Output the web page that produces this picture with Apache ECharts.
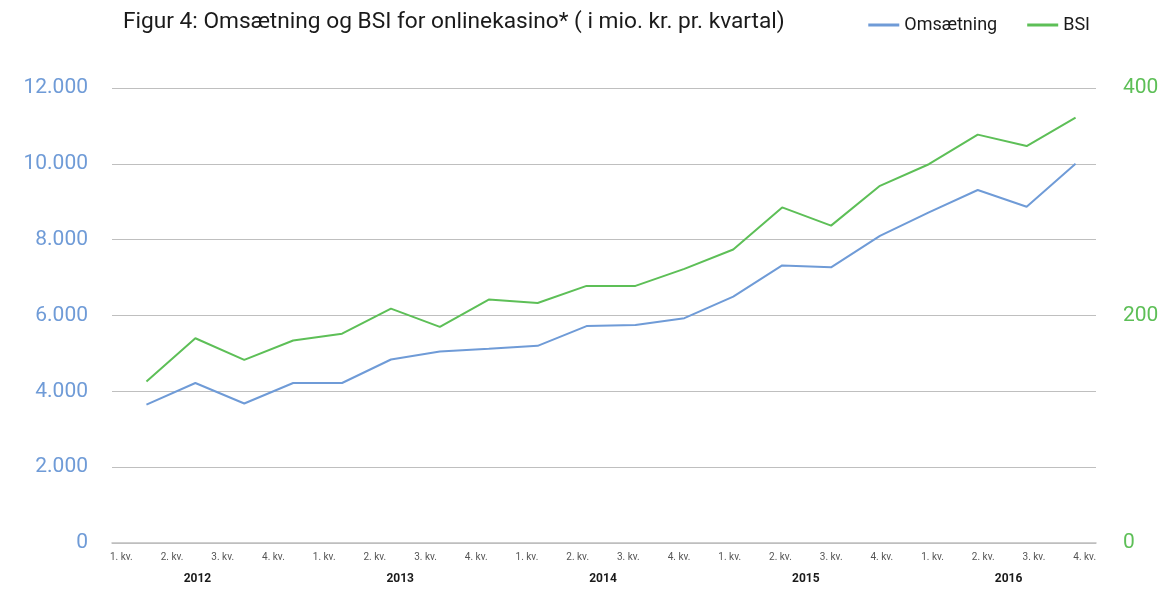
<!DOCTYPE html>
<html><head><meta charset="utf-8">
<script src="https://cdn.jsdelivr.net/npm/echarts@6/dist/echarts.min.js"></script>
<style>html,body{margin:0;padding:0;background:#fff}#c{width:1175px;height:590px}</style>
</head><body><div id="c"></div>
<script>
const quarters = ['1. kv.','2. kv.','3. kv.','4. kv.','1. kv.','2. kv.','3. kv.','4. kv.','1. kv.','2. kv.','3. kv.','4. kv.','1. kv.','2. kv.','3. kv.','4. kv.','1. kv.','2. kv.','3. kv.','4. kv.'];
const years = ['2012','2013','2014','2015','2016'];
const omsaetning = [3650,4220,3680,4220,4220,4840,5050,5120,5200,5720,5750,5930,6500,7320,7270,8100,8720,9310,8870,10000];
const bsi = [142,180,161,178,184,206,190,214,211,226,226,241,258,295,279,314,333,359,349,374];
const leftTicks = [0,2000,4000,6000,8000,10000,12000];
const rightTicks = [0,200,400];

const BLUE = '#6f9bd7', GREEN = '#5dbf57';
const TOP = 88, BOTTOM = 47;
const hiddenY = (gi, max) => ({type:'value', gridIndex:gi, min:0, max:max, show:false, splitLine:{show:false}});
const chart = echarts.init(document.getElementById('c'));
chart.setOption({
  animation:false,
  title:{text:'Figur 4: Omsætning og BSI for onlinekasino* ( i mio. kr. pr. kvartal)', left:118, top:6,
    textStyle:{fontFamily:'Roboto', fontSize:22.7, fontWeight:'normal', color:'#1a1a1a'}},
  legend:{right:80, top:11, itemWidth:31, itemHeight:3, itemGap:30, icon:'rect',
    textStyle:{fontFamily:'Roboto', fontSize:18, color:'#1a1a1a'},
    data:['Omsætning','BSI']},
  grid:[
    {left:112, right:79, top:TOP, bottom:BOTTOM},   // gridlines and value axes
    {left:122, right:75, top:TOP, bottom:BOTTOM},   // series
    {left:96, right:65, top:TOP, bottom:BOTTOM}     // category labels
  ],
  xAxis:[
    {type:'category', gridIndex:0, data:quarters, boundaryGap:true,
     axisLine:{lineStyle:{color:'#bfbfbf', width:1.5}}, axisTick:{show:false}, axisLabel:{show:false}},
    {type:'category', gridIndex:1, data:quarters, boundaryGap:true, show:false},
    {type:'category', gridIndex:2, data:quarters, boundaryGap:true,
     axisLine:{show:false}, axisTick:{show:false},
     axisLabel:{interval:0, color:'#555', fontFamily:'Roboto', fontSize:10, margin:9}},
    {type:'category', gridIndex:2, data:years, position:'bottom', boundaryGap:true, offset:22,
     axisLine:{show:false}, axisTick:{show:false},
     axisLabel:{interval:0, color:'#1a1a1a', fontFamily:'Roboto', fontSize:12, fontWeight:'bold'}}
  ],
  yAxis:[
    {type:'value', gridIndex:0, min:0, max:12000, interval:2000,
     axisLine:{show:false}, axisTick:{show:false},
     splitLine:{lineStyle:{color:'#bfbfbf', width:1}},
     axisLabel:{color:BLUE, fontFamily:'Roboto', fontSize:21, margin:24,
       formatter:v=>leftTicks.includes(v)? v.toLocaleString('da-DK'):''}},
    {type:'value', gridIndex:0, min:0, max:400, interval:200, position:'right',
     axisLine:{show:false}, axisTick:{show:false}, splitLine:{show:false},
     axisLabel:{color:GREEN, fontFamily:'Roboto', fontSize:21, margin:27,
       formatter:v=>rightTicks.includes(v)? String(v):''}},
    hiddenY(1, 12000),
    hiddenY(1, 400),
    hiddenY(2, 12000)
  ],
  series:[
    {name:'Omsætning', type:'line', data:omsaetning, xAxisIndex:1, yAxisIndex:2,
     showSymbol:false, lineStyle:{color:BLUE, width:2}, itemStyle:{color:BLUE}},
    {name:'BSI', type:'line', data:bsi, xAxisIndex:1, yAxisIndex:3,
     showSymbol:false, lineStyle:{color:GREEN, width:2}, itemStyle:{color:GREEN}}
  ]
});
</script></body></html>
